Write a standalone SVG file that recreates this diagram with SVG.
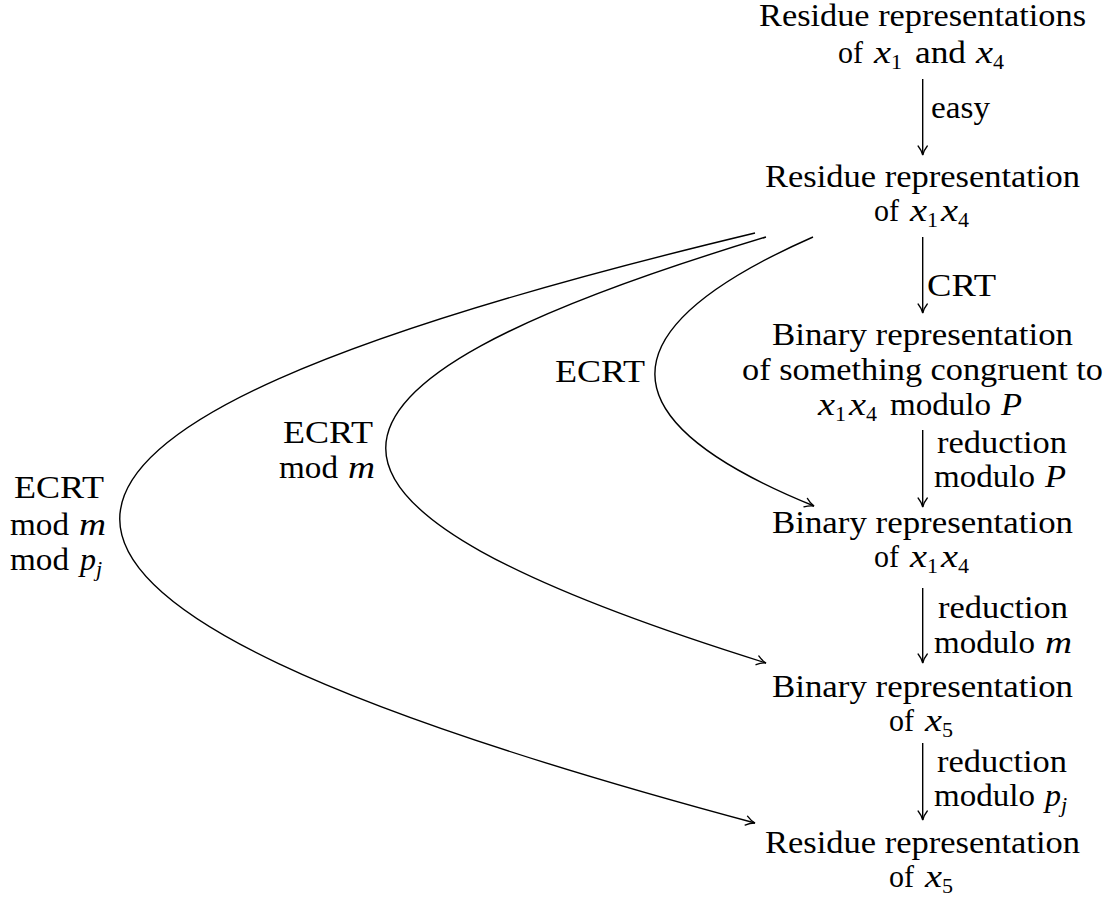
<svg xmlns="http://www.w3.org/2000/svg" width="1110" height="897" viewBox="0 0 1110 897">
<style>
text{font-family:"Liberation Serif","DejaVu Serif","Noto Serif",serif;font-size:31px;fill:#000}
.i{font-style:italic}
.s{font-size:22px}
.si{font-size:22px;font-style:italic}
.c{fill:none;stroke:#000;stroke-width:1.4}
</style>
<defs>
<marker id="ar" markerUnits="userSpaceOnUse" viewBox="-11 -6 13 12" refX="0" refY="0" markerWidth="13" markerHeight="12" orient="auto">
<path d="M -9 -4.6 C -6 -2.2 -2.5 -0.6 0 0 C -2.5 0.6 -6 2.2 -9 4.6" fill="none" stroke="#000" stroke-width="1.3" stroke-linecap="round"/>
</marker>
</defs>
<rect width="1110" height="897" fill="#fff"/>

<g id="connectors">
<line class="c" x1="922.7" y1="79" x2="922.7" y2="155" marker-end="url(#ar)"/>
<line class="c" x1="922.7" y1="237" x2="922.7" y2="313" marker-end="url(#ar)"/>
<line class="c" x1="922.7" y1="430" x2="922.7" y2="507" marker-end="url(#ar)"/>
<line class="c" x1="922.7" y1="588" x2="922.7" y2="663" marker-end="url(#ar)"/>
<line class="c" x1="922.7" y1="743" x2="922.7" y2="820" marker-end="url(#ar)"/>
<path class="c" d="M 813 237 C 602 330 602 420 814 506" marker-end="url(#ar)"/>
<path class="c" d="M 766 237 C 259 390 259 505 766 663" marker-end="url(#ar)"/>
<path class="c" d="M 755 233 C -92 436 -92 596 755 823" marker-end="url(#ar)"/>
</g>

<g id="edge-labels">
<text x="931" y="118" textLength="59" lengthAdjust="spacingAndGlyphs">easy</text>
<text x="927" y="296" textLength="69" lengthAdjust="spacingAndGlyphs">CRT</text>
<text x="937" y="453" textLength="130" lengthAdjust="spacingAndGlyphs">reduction</text>
<text x="934" y="487" textLength="101" lengthAdjust="spacingAndGlyphs">modulo</text>
<text class="i" x="1045" y="487" textLength="21" lengthAdjust="spacingAndGlyphs">P</text>
<text x="938" y="618" textLength="130" lengthAdjust="spacingAndGlyphs">reduction</text>
<text x="934" y="653" textLength="101" lengthAdjust="spacingAndGlyphs">modulo</text>
<text class="i" x="1045" y="653" textLength="27" lengthAdjust="spacingAndGlyphs">m</text>
<text x="937" y="772" textLength="130" lengthAdjust="spacingAndGlyphs">reduction</text>
<text x="934" y="806" textLength="101" lengthAdjust="spacingAndGlyphs">modulo</text>
<text class="i" x="1045" y="806" textLength="16" lengthAdjust="spacingAndGlyphs">p</text>
<text class="si" x="1061" y="812">j</text>
<text x="555" y="382" textLength="90" lengthAdjust="spacingAndGlyphs">ECRT</text>
<text x="283" y="443" textLength="90" lengthAdjust="spacingAndGlyphs">ECRT</text>
<text x="279" y="478" textLength="59" lengthAdjust="spacingAndGlyphs">mod</text>
<text class="i" x="348" y="478" textLength="27" lengthAdjust="spacingAndGlyphs">m</text>
<text x="14" y="498" textLength="90" lengthAdjust="spacingAndGlyphs">ECRT</text>
<text x="10" y="535" textLength="59" lengthAdjust="spacingAndGlyphs">mod</text>
<text class="i" x="79" y="535" textLength="27" lengthAdjust="spacingAndGlyphs">m</text>
<text x="10" y="570" textLength="59" lengthAdjust="spacingAndGlyphs">mod</text>
<text class="i" x="80" y="570" textLength="16" lengthAdjust="spacingAndGlyphs">p</text>
<text class="si" x="96" y="576">j</text>
</g>

<g id="n1">
<text x="759" y="26" textLength="327" lengthAdjust="spacingAndGlyphs">Residue representations</text>
<text x="838" y="63" textLength="25" lengthAdjust="spacingAndGlyphs">of</text>
<text class="i" x="874" y="63" textLength="17" lengthAdjust="spacingAndGlyphs">x</text>
<text class="s" x="891" y="69">1</text>
<text x="915" y="63" textLength="51" lengthAdjust="spacingAndGlyphs">and</text>
<text class="i" x="976" y="63" textLength="17" lengthAdjust="spacingAndGlyphs">x</text>
<text class="s" x="993" y="69">4</text>
</g>

<g id="n2">
<text x="765" y="187" textLength="315" lengthAdjust="spacingAndGlyphs">Residue representation</text>
<text x="874" y="221" textLength="25" lengthAdjust="spacingAndGlyphs">of</text>
<text class="i" x="910" y="221" textLength="17" lengthAdjust="spacingAndGlyphs">x</text>
<text class="s" x="927" y="227">1</text>
<text class="i" x="941" y="221" textLength="17" lengthAdjust="spacingAndGlyphs">x</text>
<text class="s" x="958" y="227">4</text>
</g>

<g id="n3">
<text x="772" y="345" textLength="301" lengthAdjust="spacingAndGlyphs">Binary representation</text>
<text x="742" y="380" textLength="361" lengthAdjust="spacingAndGlyphs">of something congruent to</text>
<text class="i" x="818" y="415" textLength="17" lengthAdjust="spacingAndGlyphs">x</text>
<text class="s" x="835" y="421">1</text>
<text class="i" x="849" y="415" textLength="17" lengthAdjust="spacingAndGlyphs">x</text>
<text class="s" x="866" y="421">4</text>
<text x="890" y="415" textLength="101" lengthAdjust="spacingAndGlyphs">modulo</text>
<text class="i" x="1001" y="415" textLength="21" lengthAdjust="spacingAndGlyphs">P</text>
</g>

<g id="n4">
<text x="772" y="533" textLength="301" lengthAdjust="spacingAndGlyphs">Binary representation</text>
<text x="874" y="567" textLength="25" lengthAdjust="spacingAndGlyphs">of</text>
<text class="i" x="910" y="567" textLength="17" lengthAdjust="spacingAndGlyphs">x</text>
<text class="s" x="927" y="573">1</text>
<text class="i" x="941" y="567" textLength="17" lengthAdjust="spacingAndGlyphs">x</text>
<text class="s" x="958" y="573">4</text>
</g>

<g id="n5">
<text x="772" y="697" textLength="301" lengthAdjust="spacingAndGlyphs">Binary representation</text>
<text x="889" y="731" textLength="25" lengthAdjust="spacingAndGlyphs">of</text>
<text class="i" x="925" y="731" textLength="17" lengthAdjust="spacingAndGlyphs">x</text>
<text class="s" x="942" y="737">5</text>
</g>

<g id="n6">
<text x="765" y="853" textLength="315" lengthAdjust="spacingAndGlyphs">Residue representation</text>
<text x="889" y="887" textLength="25" lengthAdjust="spacingAndGlyphs">of</text>
<text class="i" x="925" y="887" textLength="17" lengthAdjust="spacingAndGlyphs">x</text>
<text class="s" x="942" y="893">5</text>
</g>
</svg>
